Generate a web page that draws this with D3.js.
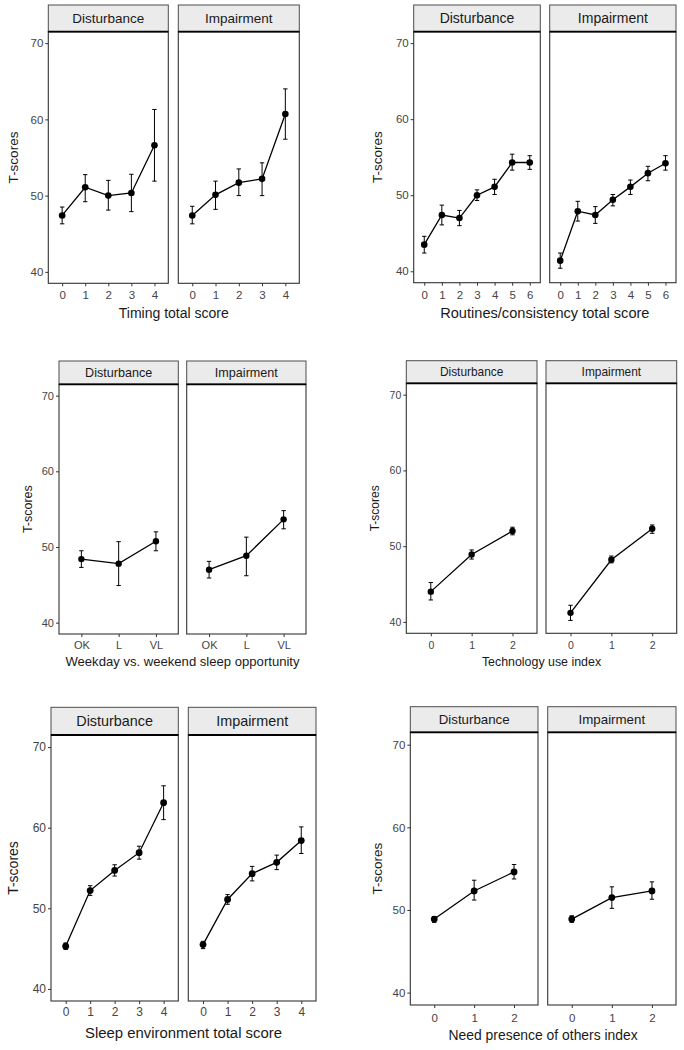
<!DOCTYPE html>
<html><head><meta charset="utf-8">
<script src="https://cdn.jsdelivr.net/npm/d3@7"></script>
<style>body{margin:0;background:#fff}svg{display:block}</style>
</head><body>
<script>
// ---------- DATA ----------
const facets = ["Disturbance", "Impairment"];
const yTicks = [40, 50, 60, 70];

const timingCats = ["0","1","2","3","4"];
const timingDistMean = [47.4, 51.1, 50.0, 50.35, 56.6];
const timingDistLo   = [46.3, 49.2, 48.1, 47.9, 51.9];
const timingDistHi   = [48.5, 52.75, 52.0, 52.8, 61.3];
const timingImpMean  = [47.4, 50.1, 51.7, 52.2, 60.7];
const timingImpLo    = [46.3, 48.2, 50.0, 50.0, 57.4];
const timingImpHi    = [48.6, 51.9, 53.5, 54.3, 64.0];

const routCats = ["0","1","2","3","4","5","6"];
const routDistMean = [43.5, 47.4, 47.0, 50.0, 51.1, 54.3, 54.3];
const routDistLo   = [42.4, 46.1, 46.0, 49.3, 50.1, 53.3, 53.4];
const routDistHi   = [44.6, 48.7, 48.0, 50.7, 52.1, 55.4, 55.2];
const routImpMean  = [41.4, 47.9, 47.4, 49.4, 51.1, 52.9, 54.2];
const routImpLo    = [40.4, 46.6, 46.3, 48.6, 50.1, 51.9, 53.3];
const routImpHi    = [42.4, 49.2, 48.5, 50.1, 52.0, 53.8, 55.2];

const weekCats = ["OK","L","VL"];
const weekDistMean = [48.4, 47.8, 50.75];
const weekDistLo   = [47.3, 44.9, 49.5];
const weekDistHi   = [49.5, 50.7, 52.0];
const weekImpMean  = [47.0, 48.85, 53.65];
const weekImpLo    = [45.9, 46.2, 52.4];
const weekImpHi    = [48.1, 51.3, 54.8];

const techCats = ["0","1","2"];
const techDistMean = [44.0, 48.9, 52.0];
const techDistLo   = [42.9, 48.3, 51.5];
const techDistHi   = [45.2, 49.5, 52.5];
const techImpMean  = [41.2, 48.2, 52.3];
const techImpLo    = [40.2, 47.8, 51.7];
const techImpHi    = [42.2, 48.7, 52.8];

const envCats = ["0","1","2","3","4"];
const envDistMean = [45.3, 52.2, 54.7, 56.9, 63.1];
const envDistLo   = [44.9, 51.6, 54.0, 56.1, 61.0];
const envDistHi   = [45.7, 52.8, 55.4, 57.7, 65.2];
const envImpMean  = [45.5, 51.1, 54.3, 55.7, 58.4];
const envImpLo    = [45.0, 50.5, 53.4, 54.8, 56.8];
const envImpHi    = [45.9, 51.7, 55.2, 56.6, 60.1];

const othersCats = ["0","1","2"];
const othersDistMean = [48.9, 52.3, 54.6];
const othersDistLo   = [48.5, 51.2, 53.75];
const othersDistHi   = [49.2, 53.6, 55.5];
const othersImpMean  = [48.9, 51.5, 52.3];
const othersImpLo    = [48.5, 50.2, 51.3];
const othersImpHi    = [49.3, 52.8, 53.4];

const xTitles = ["Timing total score", "Routines/consistency total score",
  "Weekday vs. weekend sleep opportunity", "Technology use index",
  "Sleep environment total score", "Need presence of others index"];
const yTitle = "T-scores";

// ---------- LAYOUT (positions/styles) ----------
const layout = [
  {L:[48.3,168.3], R:[178.3,299.3], stripTop:5, top:31.7, bottom:283.3, tickOff:11.7, titleOff:29.7, ylabOff:35.3, fsTick:11.5, fsStrip:13.5, fsTitle:14, fsY:13.5, r:3.3},
  {L:[413.7,540.3], R:[549.7,676], stripTop:5, top:31.7, bottom:282.7, tickOff:12, titleOff:30.3, ylabOff:36.7, fsTick:11.5, fsStrip:14, fsTitle:14.6, fsY:13.5, r:3.3},
  {L:[59,178.3], R:[186.7,306], stripTop:361, top:384.3, bottom:634, tickOff:11, titleOff:27.7, ylabOff:30.7, fsTick:11, fsStrip:12.6, fsTitle:13.1, fsY:12.5, r:3.2},
  {L:[406.3,537], R:[546,676.7], stripTop:360.7, top:383.3, bottom:633.3, tickOff:11.7, titleOff:28.4, ylabOff:31, fsTick:10.5, fsStrip:11.9, fsTitle:12.4, fsY:12, r:3.2},
  {L:[51,178.3], R:[188.3,316], stripTop:707.3, top:735, bottom:1001, tickOff:10.7, titleOff:32, ylabOff:37.7, fsTick:12, fsStrip:14.4, fsTitle:14.9, fsY:14, r:3.4},
  {L:[410.3,538], R:[547.7,676], stripTop:706.7, top:732.3, bottom:1005, tickOff:13.3, titleOff:30, ylabOff:33.3, fsTick:11.5, fsStrip:13.3, fsTitle:13.9, fsY:13.5, r:3.4}
];

function series(cats, m, lo, hi){ return cats.map((c,i)=>({c, m:m[i], lo:lo[i], hi:hi[i]})); }
const panels = [
  {cats:timingCats, d:[series(timingCats,timingDistMean,timingDistLo,timingDistHi), series(timingCats,timingImpMean,timingImpLo,timingImpHi)]},
  {cats:routCats, d:[series(routCats,routDistMean,routDistLo,routDistHi), series(routCats,routImpMean,routImpLo,routImpHi)]},
  {cats:weekCats, d:[series(weekCats,weekDistMean,weekDistLo,weekDistHi), series(weekCats,weekImpMean,weekImpLo,weekImpHi)]},
  {cats:techCats, d:[series(techCats,techDistMean,techDistLo,techDistHi), series(techCats,techImpMean,techImpLo,techImpHi)]},
  {cats:envCats, d:[series(envCats,envDistMean,envDistLo,envDistHi), series(envCats,envImpMean,envImpLo,envImpHi)]},
  {cats:othersCats, d:[series(othersCats,othersDistMean,othersDistLo,othersDistHi), series(othersCats,othersImpMean,othersImpLo,othersImpHi)]}
];

const FONT = "'Liberation Sans', Arial, Helvetica, sans-serif";
const svg = d3.select("body").append("svg").attr("width",684).attr("height",1050)
  .style("font-family", FONT);

panels.forEach((p, pi) => {
  const lay = layout[pi];
  const g = svg.append("g");
  const y = d3.scaleLinear().domain([38.5, 71.5]).range([lay.bottom, lay.top]);
  [lay.L, lay.R].forEach((ext, fi) => {
    const x = d3.scalePoint().domain(p.cats).range(ext).padding(0.6);
    const fg = g.append("g");
    // strip
    fg.append("rect").attr("x", ext[0]).attr("y", lay.stripTop)
      .attr("width", ext[1]-ext[0]).attr("height", lay.top - lay.stripTop)
      .attr("fill", "#ebebeb").attr("stroke", "#4d4d4d").attr("stroke-width", 1);
    fg.append("text").attr("x", (ext[0]+ext[1])/2).attr("y", (lay.stripTop+lay.top)/2)
      .attr("text-anchor","middle").attr("dominant-baseline","central")
      .attr("font-size", lay.fsStrip).attr("fill","#1a1a1a").text(facets[fi]);
    // panel border
    fg.append("rect").attr("x", ext[0]).attr("y", lay.top)
      .attr("width", ext[1]-ext[0]).attr("height", lay.bottom - lay.top)
      .attr("fill", "none").attr("stroke", "#333").attr("stroke-width", 1.1);
    fg.append("line").attr("x1", ext[0]).attr("x2", ext[1]).attr("y1", lay.top).attr("y2", lay.top)
      .attr("stroke", "#000").attr("stroke-width", 1.8);
    // x axis
    const xa = fg.append("g").attr("transform", `translate(0,${lay.bottom})`)
      .call(d3.axisBottom(x).tickSize(3).tickSizeOuter(0));
    xa.select(".domain").remove();
    xa.selectAll(".tick line").attr("stroke","#333").attr("stroke-width",1);
    xa.selectAll(".tick text").attr("y", lay.tickOff).attr("dy","0.35em")
      .attr("font-size", lay.fsTick).attr("fill","#444").attr("font-family", FONT);
    // y axis on left facet
    if (fi === 0) {
      const ya = fg.append("g").attr("transform", `translate(${ext[0]},0)`)
        .call(d3.axisLeft(y).tickValues(yTicks).tickSize(3).tickPadding(2));
      ya.select(".domain").remove();
      ya.selectAll(".tick line").attr("stroke","#333").attr("stroke-width",1);
      ya.selectAll(".tick text").attr("font-size", lay.fsTick).attr("fill","#444").attr("font-family", FONT);
    }
    // data
    const data = p.d[fi];
    const line = d3.line().x(d=>x(d.c)).y(d=>y(d.m));
    fg.append("path").datum(data).attr("d", line).attr("fill","none")
      .attr("stroke","#000").attr("stroke-width",1.3);
    const cap = 2.2;
    const eb = fg.append("g").attr("stroke","#000").attr("stroke-width",1);
    data.forEach(d => {
      const cx = x(d.c);
      eb.append("line").attr("x1",cx).attr("x2",cx).attr("y1",y(d.lo)).attr("y2",y(d.hi));
      eb.append("line").attr("x1",cx-cap).attr("x2",cx+cap).attr("y1",y(d.lo)).attr("y2",y(d.lo));
      eb.append("line").attr("x1",cx-cap).attr("x2",cx+cap).attr("y1",y(d.hi)).attr("y2",y(d.hi));
    });
    fg.selectAll("circle.pt").data(data).enter().append("circle").attr("class","pt")
      .attr("cx", d=>x(d.c)).attr("cy", d=>y(d.m)).attr("r", lay.r).attr("fill","#000");
  });
  // x title
  g.append("text").attr("x", (lay.L[0]+lay.R[1])/2).attr("y", lay.bottom + lay.titleOff)
    .attr("text-anchor","middle").attr("dominant-baseline","central")
    .attr("font-size", lay.fsTitle).attr("fill","#1a1a1a").text(xTitles[pi]);
  // y title
  const yc = (lay.top + lay.bottom)/2;
  const yx = lay.L[0] - lay.ylabOff;
  g.append("text").attr("transform", `translate(${yx},${yc}) rotate(-90)`)
    .attr("text-anchor","middle").attr("dominant-baseline","central")
    .attr("font-size", lay.fsY).attr("fill","#1a1a1a").text(yTitle);
});
</script>
</body></html>
